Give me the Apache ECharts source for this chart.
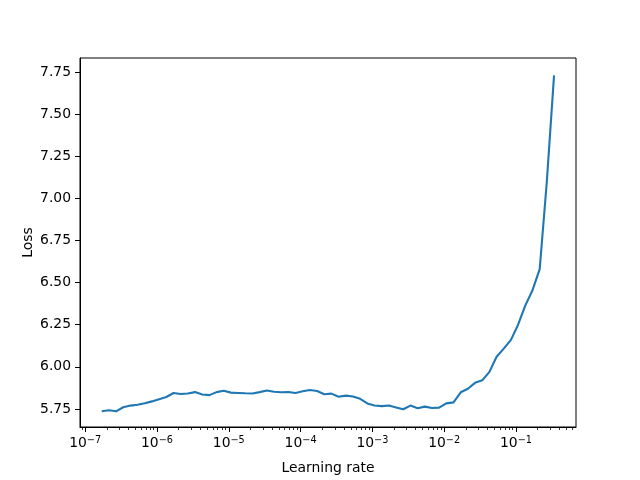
<!DOCTYPE html>
<html><head><meta charset="utf-8">
<script src="https://cdn.jsdelivr.net/npm/echarts@6/dist/echarts.min.js"></script>
<style>html,body{margin:0;padding:0;background:#fff}#c{width:640px;height:480px}</style>
</head><body><div id="c"></div>
<script>
const learningRates = [
  1.70e-7, 2.14e-7, 2.69e-7, 3.39e-7, 4.27e-7, 5.37e-7, 6.76e-7, 8.51e-7,
  1.07e-6, 1.35e-6, 1.70e-6, 2.14e-6, 2.69e-6, 3.39e-6, 4.27e-6, 5.37e-6, 6.76e-6, 8.51e-6,
  1.07e-5, 1.35e-5, 1.70e-5, 2.14e-5, 2.69e-5, 3.39e-5, 4.27e-5, 5.37e-5, 6.76e-5, 8.51e-5,
  1.07e-4, 1.35e-4, 1.70e-4, 2.14e-4, 2.69e-4, 3.39e-4, 4.27e-4, 5.37e-4, 6.76e-4, 8.51e-4,
  1.07e-3, 1.35e-3, 1.70e-3, 2.14e-3, 2.69e-3, 3.39e-3, 4.27e-3, 5.37e-3, 6.76e-3, 8.51e-3,
  1.07e-2, 1.35e-2, 1.70e-2, 2.14e-2, 2.69e-2, 3.39e-2, 4.27e-2, 5.37e-2, 6.76e-2, 8.51e-2,
  1.07e-1, 1.35e-1, 1.70e-1, 2.14e-1, 2.69e-1, 3.39e-1
];
const lossValues = [
  5.736, 5.742, 5.736, 5.760, 5.770, 5.775, 5.784, 5.795,
  5.808, 5.821, 5.845, 5.839, 5.842, 5.850, 5.836, 5.832, 5.850, 5.858,
  5.847, 5.845, 5.843, 5.842, 5.850, 5.860, 5.852, 5.849, 5.851, 5.845,
  5.855, 5.863, 5.857, 5.837, 5.841, 5.823, 5.829, 5.824, 5.810, 5.783,
  5.771, 5.767, 5.771, 5.759, 5.748, 5.770, 5.754, 5.764, 5.756, 5.758,
  5.783, 5.789, 5.849, 5.870, 5.905, 5.920, 5.970, 6.060, 6.108, 6.160,
  6.250, 6.365, 6.455, 6.580, 7.100, 7.730
];
const xMajorExponents = [-7, -6, -5, -4, -3, -2, -1];
const xMinorMultipliers = [2, 3, 4, 5, 6, 7, 8, 9];
const yTickValues = [5.75, 6.00, 6.25, 6.50, 6.75, 7.00, 7.25, 7.50, 7.75];
const xLabel = 'Learning rate';
const yLabel = 'Loss';

const xMin = -7.072, xMax = -0.164;
const yMin = 5.643, yMax = 7.833;

const minorTicks = [];
for (let e = -8; e <= -1; e++) {
  xMinorMultipliers.forEach(k => {
    const v = e + Math.log10(k);
    if (v >= xMin && v <= xMax) minorTicks.push(v);
  });
}

const FONT = 'DejaVu Sans';
const chart = echarts.init(document.getElementById('c'), null, {renderer: 'canvas'});
chart.setOption({
  animation: false,
  backgroundColor: '#fff',
  grid: {left: 80, right: 64, top: 58, bottom: 53, show: true, borderColor: '#000', borderWidth: 1, backgroundColor: 'transparent'},
  xAxis: [{
    type: 'value', min: xMin, max: xMax, position: 'bottom',
    name: xLabel, nameLocation: 'middle', nameGap: 34, nameMoveOverlap: false,
    nameTextStyle: {fontFamily: FONT, fontSize: 13.9, color: '#000'},
    axisLine: {show: true, onZero: false, lineStyle: {color: '#000', width: 1}},
    axisTick: {show: true, customValues: xMajorExponents, length: 5, lineStyle: {color: '#000', width: 1}},
    axisLabel: {
      customValues: xMajorExponents, margin: 8, color: '#000', fontFamily: FONT,
      formatter: v => '{b|10}{s|\u2212' + Math.abs(Math.round(v)) + '}',
      rich: {
        b: {fontFamily: FONT, fontSize: 13.9, color: '#000'},
        s: {fontFamily: FONT, fontSize: 9.7, color: '#000', padding: [0, 0, 7, 0]}
      }
    },
    splitLine: {show: false}
  }, {
    type: 'value', min: xMin, max: xMax, position: 'bottom',
    axisLine: {show: false},
    axisTick: {show: true, customValues: minorTicks, length: 3, lineStyle: {color: '#000', width: 0.8}},
    axisLabel: {show: false},
    splitLine: {show: false}
  }],
  yAxis: {
    type: 'value', min: yMin, max: yMax,
    name: yLabel, nameLocation: 'middle', nameGap: 45, nameRotate: 90, nameMoveOverlap: false,
    nameTextStyle: {fontFamily: FONT, fontSize: 13.9, color: '#000'},
    axisLine: {show: true, onZero: false, lineStyle: {color: '#000', width: 1}},
    axisTick: {show: true, customValues: yTickValues, length: 5, lineStyle: {color: '#000', width: 1}},
    axisLabel: {customValues: yTickValues, margin: 9, color: '#000', fontFamily: FONT, fontSize: 13.9,
      formatter: v => v.toFixed(2)},
    splitLine: {show: false}
  },
  series: [{
    type: 'line', xAxisIndex: 0,
    data: learningRates.map((lr, i) => [Math.log10(lr), lossValues[i]]),
    showSymbol: false, symbol: 'none',
    lineStyle: {color: '#1f77b4', width: 2.1, join: 'round', cap: 'butt'},
    itemStyle: {color: '#1f77b4'}
  }]
});
</script></body></html>
